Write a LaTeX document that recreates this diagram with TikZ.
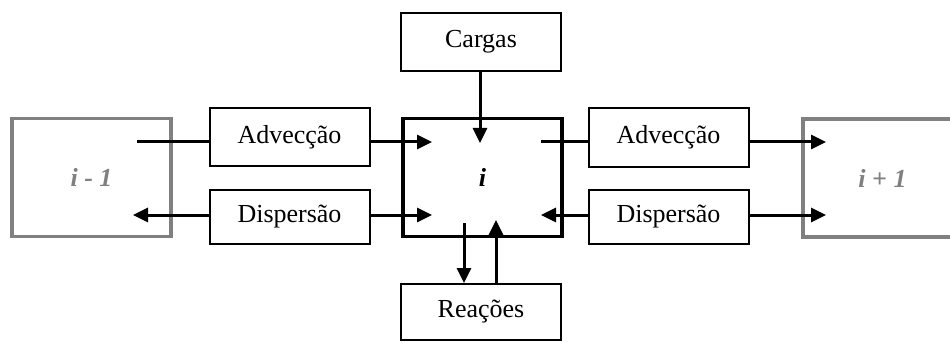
\documentclass[tikz,border=0pt]{standalone}
\usepackage{fontspec}
\setmainfont{Liberation Serif}
\usetikzlibrary{arrows.meta}
\definecolor{cellgray}{RGB}{128,128,128}
\tikzset{
  proc/.style={draw=black, line width=2pt, minimum width=160pt, inner sep=0pt,
    font=\fontsize{26}{31}\selectfont},
  cell/.style={draw, line width=3.2pt, minimum width=159pt, minimum height=118pt,
    inner sep=0pt, font=\fontsize{26}{31}\selectfont\bfseries\itshape},
  flow/.style={line width=3pt},
  flowarr/.style={flow, -{Triangle[length=15pt,width=14pt]}}
}
\begin{document}
\begin{tikzpicture}[x=1pt,y=-1pt]
\useasboundingbox (0,0) rectangle (950,342);
\clip (0,0) rectangle (950,342);
% neighbouring cells
\node[cell, draw=cellgray, text=cellgray] (prev) at (91.5,177.5) {i - 1};
\node[cell, draw=cellgray, text=cellgray] (next) at (882.5,178) {i + 1};
% central cell
\node[cell] (cur) at (482.5,177.5) {i};
% process boxes
\node[proc, minimum height=58pt] (cargas) at (481,42) {Cargas};
\node[proc, minimum height=56pt] (reac) at (481,312) {Reações};
\node[proc, minimum height=58pt] (advL) at (289.5,137) {Advecção};
\node[proc, minimum height=54pt] (dispL) at (289.5,217) {Dispersão};
\node[proc, minimum height=58pt] (advR) at (668.5,137.5) {Advecção};
\node[proc, minimum height=54pt] (dispR) at (668.5,217) {Dispersão};
% flow rows and free ends
\coordinate (r1) at (0,142);
\coordinate (r2) at (0,215);
\coordinate (inL1) at (137,142);
\coordinate (tipC1) at (432,142);
\coordinate (tipL2) at (133,215);
\coordinate (tipC2) at (432,215);
\coordinate (outR1) at (541,142);
\coordinate (tipR1) at (826,142);
\coordinate (tipCR2) at (541,215);
\coordinate (tipR2) at (826,215);
\coordinate (tipTop) at (480,143);
\coordinate (outDown) at (464,223);
\coordinate (tipUp) at (496,220);
% advection and dispersion, left side
\draw[flow] (inL1) -- (advL.west |- r1);
\draw[flowarr] (advL.east |- r1) -- (tipC1);
\draw[flowarr] (dispL.west |- r2) -- (tipL2);
\draw[flowarr] (dispL.east |- r2) -- (tipC2);
% advection and dispersion, right side
\draw[flow] (outR1) -- (advR.west |- r1);
\draw[flowarr] (advR.east |- r1) -- (tipR1);
\draw[flowarr] (dispR.west |- r2) -- (tipCR2);
\draw[flowarr] (dispR.east |- r2) -- (tipR2);
% loads and reactions
\draw[flowarr] (cargas.south -| tipTop) -- (tipTop);
\draw[flowarr] (outDown) -- (reac.north -| outDown);
\draw[flowarr] (reac.north -| tipUp) -- (tipUp);
\end{tikzpicture}
\end{document}
